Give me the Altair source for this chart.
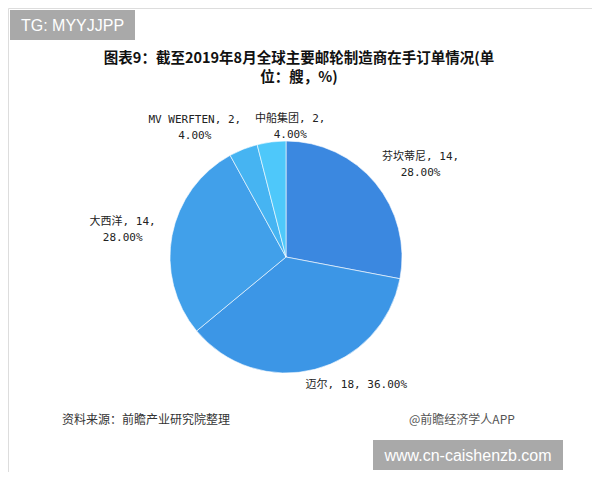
import altair as alt
import pandas as pd

# ---- data ----
names = ["芬坎蒂尼", "迈尔", "大西洋", "MV WERFTEN", "中船集团"]
orders = [14, 18, 14, 2, 2]
shares = [28.00, 36.00, 28.00, 4.00, 4.00]
colors = ["#3b88e0", "#3c96e6", "#41a0ea", "#46b4f2", "#4ec8fa"]
two_line = [True, False, True, True, True]

title_line1 = "图表9：截至2019年8月全球主要邮轮制造商在手订单情况(单"
title_line2 = "位：艘，%)"
source_text = "资料来源：前瞻产业研究院整理"
app_text = "@前瞻经济学人APP"
tag_text = "TG: MYYJJPP"
site_text = "www.cn-caishenzb.com"

labels = [
    f"{n}, {v}," + ("\n" if br else " ") + f"{s:.2f}%"
    for n, v, s, br in zip(names, orders, shares, two_line)
]
df = pd.DataFrame({"name": names, "orders": orders, "share": shares,
                   "idx": list(range(len(names))), "label": labels})
one = pd.DataFrame({"k": [0]})

W, H = 584, 464
CX, CY, R = 278, 249, 116
LR = 150
MONO = "DejaVu Sans Mono, Noto Sans CJK SC"
CJK = "Noto Sans CJK SC"

base = alt.Chart(df)
theta = alt.Theta("orders:Q", stack=True)
order = alt.Order("idx:Q")

pie = base.mark_arc(radius=R, stroke="white", strokeWidth=0.6).encode(
    theta=theta, order=order,
    color=alt.Color("name:N", scale=alt.Scale(domain=names, range=colors), legend=None),
    x=alt.value(CX), y=alt.value(CY),
)

offsets = {
    "芬坎蒂尼": (19, -4),
    "迈尔": (33, -17),
    "大西洋": (-16, -7),
    "MV WERFTEN": (-36, 2),
    "中船集团": (23, 11),
}
label_layers = []
for n in names:
    dx, dy = offsets[n]
    label_layers.append(
        base.mark_text(radius=LR, dx=dx, dy=dy, lineBreak="\n", lineHeight=16,
                       font=MONO, fontSize=11, color="#222", align="center",
                       baseline="middle").encode(
            theta=theta, order=order,
            x=alt.value(CX), y=alt.value(CY),
            text=alt.condition(f"datum.name == '{n}'", "label:N", alt.value("")),
        )
    )

c1 = alt.Chart(one)
title_style = dict(font=CJK, fontSize=14.5, fontWeight="bold", color="#111",
                   align="center", baseline="middle")
title1 = c1.mark_text(**title_style).encode(
    x=alt.value(291), y=alt.value(51), text=alt.value(title_line1))
title2 = c1.mark_text(**title_style).encode(
    x=alt.value(291), y=alt.value(70), text=alt.value(title_line2))

tag_box = c1.mark_rect(color="#a9a9a9").encode(
    x=alt.value(2), x2=alt.value(127), y=alt.value(2), y2=alt.value(32))
tag = c1.mark_text(font="Liberation Sans", fontSize=16, color="white",
                   align="center", baseline="middle").encode(
    x=alt.value(64.5), y=alt.value(17.5), text=alt.value(tag_text))

site_box = c1.mark_rect(color="#a9a9a9").encode(
    x=alt.value(365), x2=alt.value(555), y=alt.value(432), y2=alt.value(462))
site = c1.mark_text(font="Liberation Sans", fontSize=16, color="white",
                    align="center", baseline="middle").encode(
    x=alt.value(460), y=alt.value(447.5), text=alt.value(site_text))

source = c1.mark_text(font=CJK, fontSize=12, color="#333", align="left",
                      baseline="middle").encode(
    x=alt.value(54), y=alt.value(412), text=alt.value(source_text))
app = c1.mark_text(font=CJK, fontSize=12, color="#555", align="left",
                   baseline="middle").encode(
    x=alt.value(401), y=alt.value(412), text=alt.value(app_text))

chart = alt.layer(pie, *label_layers, title1, title2, tag_box, tag, site_box, site,
                  source, app).properties(
    width=W, height=H, autosize=alt.AutoSizeParams(type="none"), padding=0,
).configure_view(stroke=None).configure(background="white")

chart.save("out.html", embed_options={"renderer": "svg", "actions": False})
